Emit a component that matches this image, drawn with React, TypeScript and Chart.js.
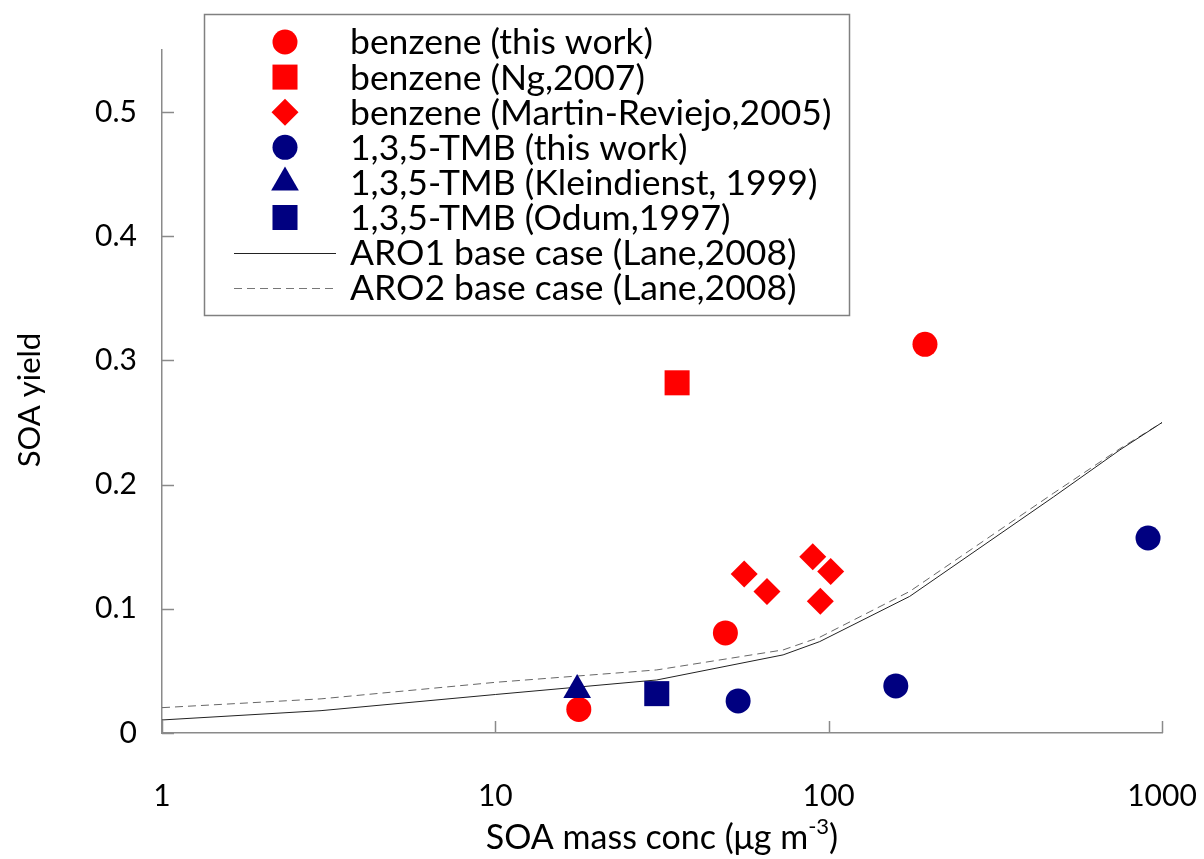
import React, { useEffect, useRef } from 'react';
import { Chart, registerables } from 'chart.js';

Chart.register(...registerables);

const FONT = 'Lato, "Open Sans", sans-serif';
const AXIS_COLOR = '#8a8a8a';
const RED = '#ff0000';
const NAVY = '#000080';

// ---- data ----
const X_TICKS = [1, 10, 100, 1000];
const Y_TICKS = [0, 0.1, 0.2, 0.3, 0.4, 0.5];

const benzeneThisWorkX = [17.8, 49.0, 194.5];
const benzeneThisWorkY = [0.019, 0.0806, 0.313];

const benzeneNgX = [35.1];
const benzeneNgY = [0.282];

const benzeneMartinX = [55.8, 65.3, 89.6, 101.4, 94.4];
const benzeneMartinY = [0.128, 0.114, 0.142, 0.13, 0.106];

const tmbThisWorkX = [53.5, 159, 908];
const tmbThisWorkY = [0.0258, 0.0379, 0.157];

const tmbKleindienstX = [17.6];
const tmbKleindienstY = [0.0347];

const tmbOdumX = [30.5];
const tmbOdumY = [0.0317];

const aroX = [1, 3, 10, 30.5, 73, 94, 175, 472, 748, 1000];
const aro1Y = [0.0105, 0.018, 0.031, 0.0427, 0.0629, 0.0736, 0.11, 0.19, 0.228, 0.25];
const aro2Y = [0.0204, 0.0275, 0.0408, 0.0508, 0.0669, 0.0771, 0.114, 0.193, 0.229, 0.25];

const LABELS = [
  'benzene (this work)',
  'benzene (Ng,2007)',
  'benzene (Martin-Reviejo,2005)',
  '1,3,5-TMB (this work)',
  '1,3,5-TMB (Kleindienst, 1999)',
  '1,3,5-TMB (Odum,1997)',
  'ARO1 base case (Lane,2008)',
  'ARO2 base case (Lane,2008)',
];

const pts = (xs: number[], ys: number[]) => xs.map((x, i) => ({ x, y: ys[i] }));

const markerDataset = (label: string, xs: number[], ys: number[], color: string, style: string, radius: number, order: number) => ({
  label,
  data: pts(xs, ys),
  pointStyle: style,
  pointRadius: radius,
  pointHoverRadius: radius,
  backgroundColor: color,
  borderColor: color,
  pointBorderWidth: 0,
  showLine: false,
  order,
});

function drawShape(ctx: CanvasRenderingContext2D, style: string, x: number, y: number, r: number, color: string) {
  ctx.save();
  ctx.fillStyle = color;
  ctx.beginPath();
  if (style === 'circle') {
    ctx.arc(x, y, r, 0, Math.PI * 2);
  } else if (style === 'rect') {
    const s = Math.SQRT1_2 * r;
    ctx.rect(x - s, y - s, 2 * s, 2 * s);
  } else if (style === 'rectRot') {
    ctx.moveTo(x - r, y);
    ctx.lineTo(x, y - r);
    ctx.lineTo(x + r, y);
    ctx.lineTo(x, y + r);
    ctx.closePath();
  } else if (style === 'triangle') {
    ctx.moveTo(x, y - r);
    ctx.lineTo(x + Math.sin(Math.PI / 3) * r, y + 0.5 * r);
    ctx.lineTo(x - Math.sin(Math.PI / 3) * r, y + 0.5 * r);
    ctx.closePath();
  }
  ctx.fill();
  ctx.restore();
}

const insideTicksPlugin = {
  id: 'insideTicks',
  beforeDatasetsDraw(chart: any) {
    const { ctx, scales } = chart;
    const xs = scales.x;
    const ys = scales.y;
    ctx.save();
    ctx.strokeStyle = AXIS_COLOR;
    ctx.lineWidth = 1.5;
    ctx.beginPath();
    X_TICKS.forEach((v) => {
      const px = Math.round(xs.getPixelForValue(v)) + 0.5;
      ctx.moveTo(px, ys.bottom);
      ctx.lineTo(px, ys.bottom - 12);
    });
    Y_TICKS.forEach((v) => {
      const py = Math.round(ys.getPixelForValue(v)) + 0.5;
      ctx.moveTo(xs.left, py);
      ctx.lineTo(xs.left + 12, py);
    });
    ctx.stroke();
    ctx.restore();
  },
};

const titlesPlugin = {
  id: 'axisTitles',
  afterDraw(chart: any) {
    const { ctx, chartArea } = chart;
    ctx.save();
    ctx.fillStyle = '#000';
    ctx.textBaseline = 'alphabetic';
    // x title with superscript
    const main = 'SOA mass conc (μg m';
    const sup = '-3';
    const close = ')';
    const bigFont = `34px ${FONT}`;
    const smallFont = `22px ${FONT}`;
    ctx.font = bigFont;
    const wMain = ctx.measureText(main).width;
    const wClose = ctx.measureText(close).width;
    ctx.font = smallFont;
    const wSup = ctx.measureText(sup).width;
    const total = wMain + wSup + wClose;
    const cx = (chartArea.left + chartArea.right) / 2;
    let x = cx - total / 2;
    const base = 849;
    ctx.textAlign = 'left';
    ctx.font = bigFont;
    ctx.fillText(main, x, base);
    x += wMain;
    ctx.font = smallFont;
    ctx.fillText(sup, x, base - 15);
    x += wSup;
    ctx.font = bigFont;
    ctx.fillText(close, x, base);
    // y title
    ctx.save();
    ctx.translate(30, 400);
    ctx.rotate(-Math.PI / 2);
    ctx.textAlign = 'center';
    ctx.textBaseline = 'middle';
    ctx.font = `31px ${FONT}`;
    ctx.fillText('SOA yield', 0, 0);
    ctx.restore();
    ctx.restore();
  },
};

const legendPlugin = {
  id: 'boxLegend',
  afterDraw(chart: any) {
    const { ctx } = chart;
    const left = 204, top = 14, right = 849, bottom = 315;
    ctx.save();
    ctx.fillStyle = '#fff';
    ctx.fillRect(left, top, right - left, bottom - top);
    ctx.strokeStyle = '#808080';
    ctx.lineWidth = 1.5;
    ctx.strokeRect(left + 0.5, top + 0.5, right - left, bottom - top);
    const rowY0 = 42;
    const step = 35.1;
    const markerX = 285;
    const textX = 350;
    const styles = [
      ['circle', RED, 12.5],
      ['rect', RED, 17.7],
      ['rectRot', RED, 13.5],
      ['circle', NAVY, 12.5],
      ['triangle', NAVY, 16],
      ['rect', NAVY, 17.7],
    ] as [string, string, number][];
    styles.forEach(([s, c, r], i) => drawShape(ctx, s, markerX, rowY0 + i * step, r, c));
    // lines
    const y1 = Math.round(rowY0 + 6 * step) + 0.5;
    ctx.strokeStyle = '#222';
    ctx.lineWidth = 1;
    ctx.beginPath();
    ctx.moveTo(234, y1);
    ctx.lineTo(336, y1);
    ctx.stroke();
    const y2 = Math.round(rowY0 + 7 * step) + 0.5;
    ctx.strokeStyle = '#777';
    ctx.setLineDash([8, 5]);
    ctx.beginPath();
    ctx.moveTo(234, y2);
    ctx.lineTo(336, y2);
    ctx.stroke();
    ctx.setLineDash([]);
    ctx.fillStyle = '#000';
    ctx.font = `35.5px ${FONT}`;
    ctx.textAlign = 'left';
    ctx.textBaseline = 'middle';
    LABELS.forEach((t, i) => ctx.fillText(t, textX, rowY0 + i * step + 1));
    ctx.restore();
  },
};

export default function App() {
  const ref = useRef<HTMLCanvasElement>(null);
  useEffect(() => {
    if (!ref.current) return;
    const datasets: any[] = [
      markerDataset(LABELS[0], benzeneThisWorkX, benzeneThisWorkY, RED, 'circle', 12.5, 6),
      markerDataset(LABELS[1], benzeneNgX, benzeneNgY, RED, 'rect', 17.7, 5),
      markerDataset(LABELS[2], benzeneMartinX, benzeneMartinY, RED, 'rectRot', 13.5, 4),
      markerDataset(LABELS[3], tmbThisWorkX, tmbThisWorkY, NAVY, 'circle', 12.5, 3),
      markerDataset(LABELS[4], tmbKleindienstX, tmbKleindienstY, NAVY, 'triangle', 16, 2),
      markerDataset(LABELS[5], tmbOdumX, tmbOdumY, NAVY, 'rect', 17.7, 1),
      {
        label: LABELS[6],
        data: pts(aroX, aro1Y),
        showLine: true,
        borderColor: '#222',
        borderWidth: 1,
        pointRadius: 0,
        tension: 0,
        order: 20,
      },
      {
        label: LABELS[7],
        data: pts(aroX, aro2Y),
        showLine: true,
        borderColor: '#666',
        borderWidth: 1,
        borderDash: [8, 5],
        pointRadius: 0,
        tension: 0,
        order: 21,
      },
    ];
    const chart = new Chart(ref.current, {
      type: 'scatter',
      data: { datasets },
      options: {
        responsive: false,
        animation: false,
        devicePixelRatio: 1,
        layout: { padding: { top: 50, right: 42, left: 0, bottom: 0 } },
        plugins: { legend: { display: false }, tooltip: { enabled: false } },
        scales: {
          x: {
            type: 'logarithmic',
            min: 1,
            max: 1000,
            afterBuildTicks: (s: any) => {
              s.ticks = X_TICKS.map((v) => ({ value: v }));
            },
            afterFit: (s: any) => {
              s.height = 126;
              s.paddingLeft = 0;
              s.paddingRight = 0;
            },
            grid: { display: false, drawTicks: false },
            border: { display: true, color: AXIS_COLOR, width: 1.5 },
            ticks: {
              font: { family: FONT, size: 30 },
              color: '#000',
              padding: 45,
              maxRotation: 0,
              autoSkip: false,
              callback: (v: any) => String(v),
            },
          },
          y: {
            type: 'linear',
            min: 0,
            max: 0.55,
            afterBuildTicks: (s: any) => {
              s.ticks = Y_TICKS.map((v) => ({ value: v }));
            },
            afterFit: (s: any) => {
              s.width = 162;
              s.paddingTop = 0;
              s.paddingBottom = 0;
            },
            grid: { display: false, drawTicks: false },
            border: { display: true, color: AXIS_COLOR, width: 1.5 },
            ticks: {
              font: { family: FONT, size: 30 },
              color: '#000',
              padding: 25,
              callback: (v: any) => String(Number(Number(v).toFixed(2))),
            },
          },
        },
      },
      plugins: [insideTicksPlugin, titlesPlugin, legendPlugin],
    } as any);
    return () => chart.destroy();
  }, []);
  return (
    <div style={{ position: 'fixed', left: 0, top: 0, width: 1204, height: 859, background: '#fff' }}>
      <canvas ref={ref} width={1204} height={859} style={{ display: 'block' }} />
    </div>
  );
}
